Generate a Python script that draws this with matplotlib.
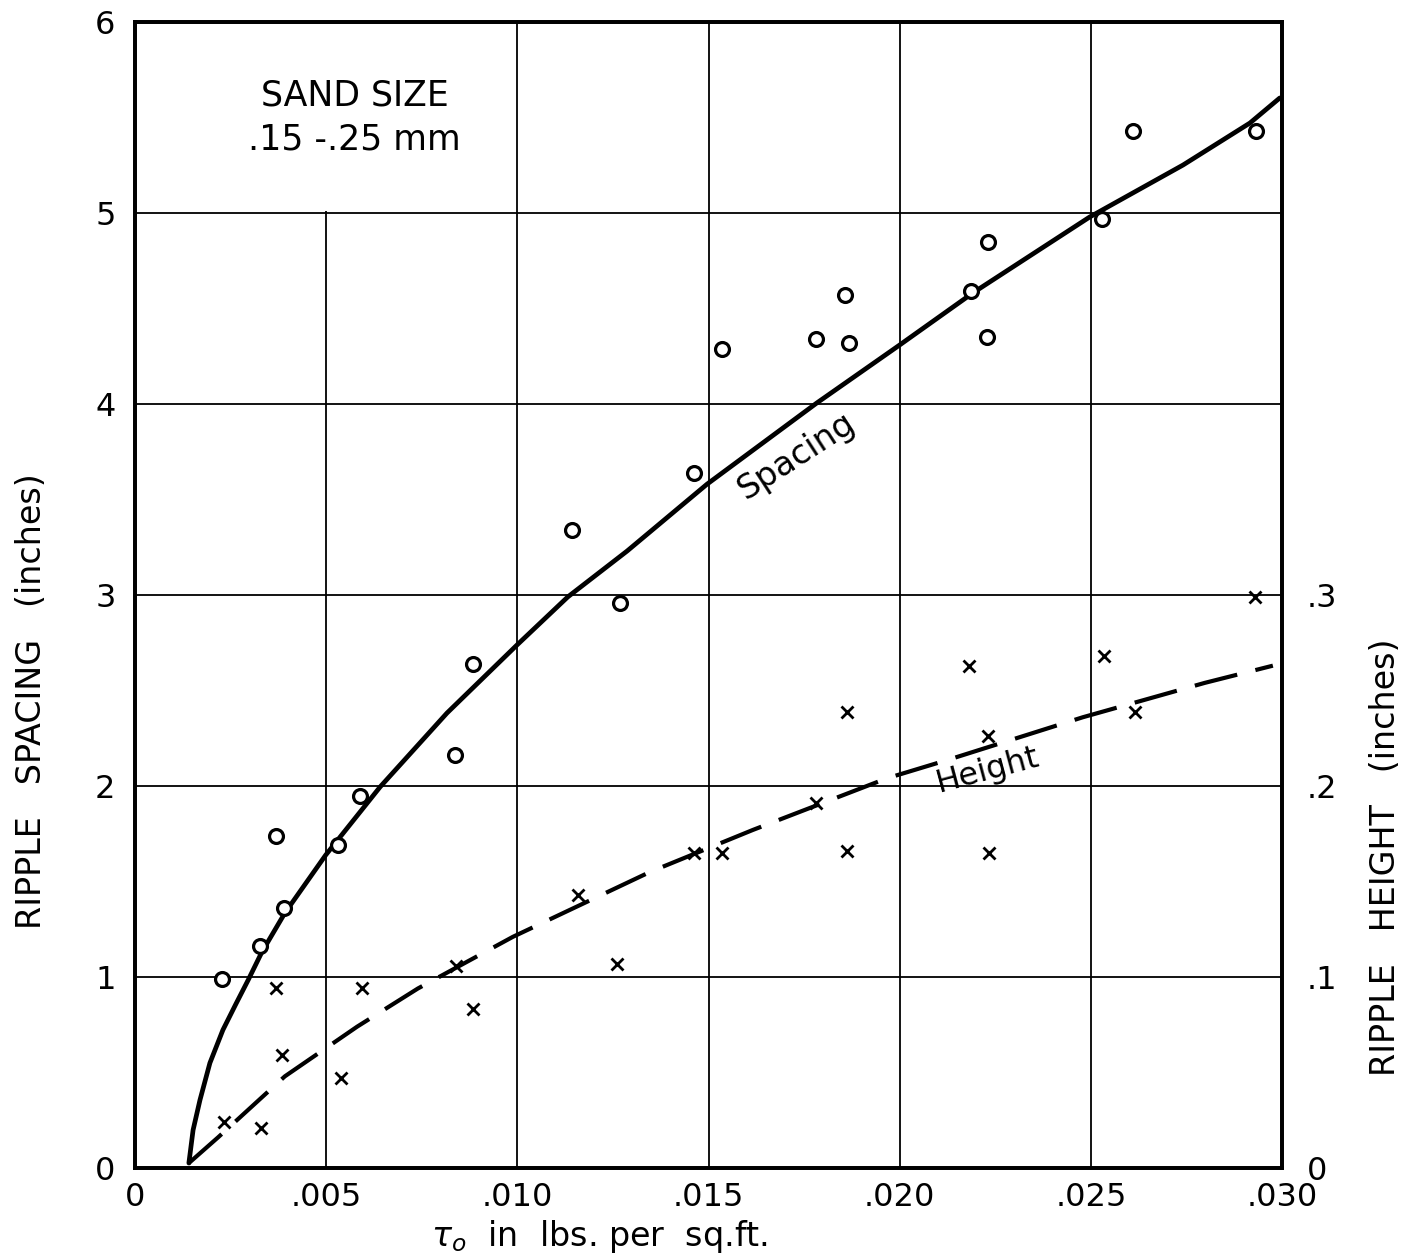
import numpy as np
import matplotlib
matplotlib.use("Agg")
import matplotlib.pyplot as plt
from matplotlib.patches import Rectangle

# measured ripple spacing (inches) vs boundary shear (lbs per sq.ft.)
spacing_tau = [0.00228, 0.00327, 0.00369, 0.00390, 0.00531, 0.00588, 0.00837,
               0.00884, 0.01143, 0.01268, 0.01462, 0.01535, 0.01781, 0.01857,
               0.01867, 0.02186, 0.02231, 0.02228, 0.02529, 0.02610, 0.02931]
spacing_in = [0.99, 1.16, 1.74, 1.36, 1.69, 1.95, 2.16,
              2.64, 3.34, 2.96, 3.64, 4.29, 4.34, 4.57,
              4.32, 4.59, 4.85, 4.35, 4.97, 5.43, 5.43]

# measured ripple height (inches)
height_tau = [0.00233, 0.00330, 0.00369, 0.00384, 0.00539, 0.00594, 0.00839,
              0.00884, 0.01158, 0.01260, 0.01462, 0.01535, 0.01781, 0.01862,
              0.01862, 0.02181, 0.02231, 0.02233, 0.02534, 0.02615, 0.02929]
height_in = [0.024, 0.021, 0.094, 0.059, 0.047, 0.094, 0.106,
             0.083, 0.143, 0.107, 0.165, 0.165, 0.191, 0.239,
             0.166, 0.263, 0.226, 0.165, 0.268, 0.239, 0.299]

# hand-drawn fitted curves
spacing_curve_tau = [0.00141, 0.00152, 0.00170, 0.00196, 0.00230, 0.00264, 0.00296,
                     0.00332, 0.00392, 0.00499, 0.00641, 0.00816, 0.00999, 0.01132,
                     0.01287, 0.01496, 0.01783, 0.02000, 0.02191, 0.02497, 0.02741,
                     0.02916, 0.02994]
spacing_curve = [0.026, 0.199, 0.356, 0.550, 0.723, 0.859, 0.984,
                 1.131, 1.335, 1.639, 1.995, 2.382, 2.738, 2.990,
                 3.230, 3.580, 4.005, 4.309, 4.581, 4.979, 5.251,
                 5.471, 5.602]

height_curve_tau = [0.00141, 0.00217, 0.00392, 0.00581, 0.00740, 0.00988, 0.01347,
                    0.01616, 0.01966, 0.02131, 0.02479, 0.02798, 0.02976]
height_curve = [0.0026, 0.016, 0.048, 0.074, 0.094, 0.121, 0.155,
                0.177, 0.204, 0.214, 0.236, 0.254, 0.263]

x_ticks = [0, 0.005, 0.010, 0.015, 0.020, 0.025, 0.030]
x_labels = ["0", ".005", ".010", ".015", ".020", ".025", ".030"]
left_ticks = [0, 1, 2, 3, 4, 5, 6]
right_ticks = [0, 0.1, 0.2, 0.3]
right_labels = ["0", ".1", ".2", ".3"]

plt.rcParams['font.family'] = ['DejaVu Sans']

fig = plt.figure(figsize=(14.03, 12.55), dpi=100)
ax = fig.add_axes([0.0962, 0.0693, 0.8176, 0.9132])
ax2 = ax.twinx()

ax.set_xlim(0, 0.030)
ax.set_ylim(0, 6)
ax2.set_ylim(0, 0.6)

ax.set_xticks(x_ticks)
ax.set_xticklabels(x_labels)
ax.set_yticks(left_ticks)
ax2.set_yticks(right_ticks)
ax2.set_yticklabels(right_labels)

ax.tick_params(axis='both', length=0, labelsize=23, pad=14)
ax.tick_params(axis='x', pad=10)
ax2.tick_params(axis='y', length=0, labelsize=23, pad=18)

ax.grid(True, color='black', linewidth=1.3)
ax.set_axisbelow(True)
# blank cell behind the sand-size note
ax.add_patch(Rectangle((0.0001, 5.012), 0.0054, 0.98, facecolor='white',
                       edgecolor='none', zorder=0.8))

for a in (ax, ax2):
    for s in a.spines.values():
        s.set_linewidth(2.7)

ax.plot(spacing_curve_tau, spacing_curve, color='black', linewidth=3.4,
        solid_capstyle='round', solid_joinstyle='round', zorder=3)
ax.plot(spacing_tau, spacing_in, linestyle='none', marker='o', markersize=10,
        markerfacecolor='white', markeredgecolor='black', markeredgewidth=2.3, zorder=4)

ax2.plot(height_curve_tau, height_curve, color='black', linewidth=3,
         dashes=(10.5, 4.5), zorder=3)
ax2.plot(height_tau, height_in, linestyle='none', marker='x', markersize=8,
         markeredgecolor='black', markeredgewidth=2, zorder=4)

ax.text(0.00575, 5.50, "SAND SIZE\n.15 -.25 mm", ha='center', va='center',
        fontsize=25, linespacing=1.4, zorder=5)
ax.text(0.01731, 3.73, "Spacing", rotation=33, ha='center', va='center',
        fontsize=24, zorder=5)
ax.text(0.02230, 2.08, "Height", rotation=15, ha='center', va='center',
        fontsize=23, zorder=5)

ax.set_ylabel("RIPPLE   SPACING   (inches)", fontsize=24)
ax.yaxis.set_label_coords(-0.0898, 0.407)
ax2.set_ylabel("RIPPLE   HEIGHT   (inches)", fontsize=24, rotation=90)
ax2.yaxis.set_label_coords(1.0898, 0.271)
ax.set_xlabel(r"$\tau_o$  in  lbs. per  sq.ft.", fontsize=24)
ax.xaxis.set_label_coords(0.405, -0.060)
ax.xaxis.label.set_va('center')
ax.yaxis.label.set_va('center')
ax2.yaxis.label.set_va('center')

fig.savefig("out.png", dpi=100)
